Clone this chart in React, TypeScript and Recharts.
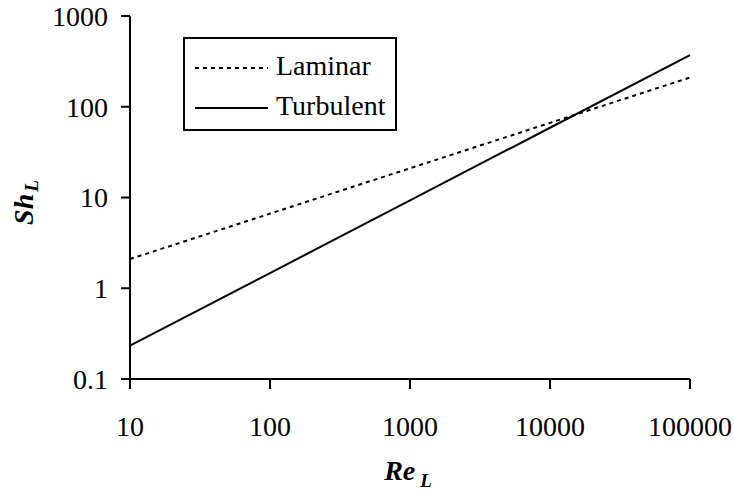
import { LineChart, Line, XAxis, YAxis, Legend, Label } from "recharts";

// Sherwood number vs Reynolds number (log-log)
const reynolds = [10, 100, 1000, 10000, 100000];
const laminarSh = [2.1, 6.64, 21, 66.4, 210];
const turbulentSh = [0.233, 1.47, 9.3, 58.7, 370];
const xTicks = [10, 100, 1000, 10000, 100000];
const yTicks = [0.1, 1, 10, 100, 1000];

const data = reynolds.map((re, i) => ({
  re,
  laminar: laminarSh[i],
  turbulent: turbulentSh[i],
}));

const FONT = "Liberation Serif";
const tickStyle = { fill: "#000", fontSize: 28, fontFamily: FONT, style: { fontFamily: FONT } };

// legend drawn as a framed box like the original
function LegendBox({ payload }: any) {
  const rows = payload || [];
  return (
    <svg width={214} height={94} style={{ display: "block" }}>
      <rect x={1} y={1} width={212} height={92} fill="#fff" stroke="#000" strokeWidth={2} />
      {rows.map((entry: any, i: number) => {
        const ly = i === 0 ? 31 : 71;
        return (
          <g key={entry.value}>
            <line
              x1={12}
              x2={85}
              y1={ly}
              y2={ly}
              stroke="#000"
              strokeWidth={2}
              strokeDasharray={entry.payload?.strokeDasharray}
            />
            <text x={93} y={ly + 7} fill="#000" style={{ fontFamily: FONT, fontSize: 28 }}>
              {entry.value}
            </text>
          </g>
        );
      })}
    </svg>
  );
}

const renderXLabel = ({ viewBox }: any) => {
  const cx = viewBox.x + viewBox.width / 2 - 2;
  return (
    <text
      x={cx}
      y={480}
      textAnchor="middle"
      fill="#000"
      style={{ fontFamily: FONT, fontWeight: "bold", fontStyle: "italic" }}
    >
      <tspan style={{ fontSize: 28 }}>Re</tspan>
      <tspan style={{ fontSize: 19 }} dx={5} dy={7}>L</tspan>
    </text>
  );
};

const renderYLabel = ({ viewBox }: any) => {
  const cy = viewBox.y + viewBox.height / 2 + 5;
  const cx = 33;
  return (
    <text
      x={cx}
      y={cy}
      transform={`rotate(-90, ${cx}, ${cy})`}
      textAnchor="middle"
      fill="#000"
      style={{ fontFamily: FONT, fontWeight: "bold", fontStyle: "italic" }}
    >
      <tspan style={{ fontSize: 28 }}>Sh</tspan>
      <tspan style={{ fontSize: 19 }} dx={2} dy={5}>L</tspan>
    </text>
  );
};

export default function App() {
  return (
    <div style={{ position: "absolute", left: 0, top: 0, background: "#fff", fontFamily: FONT }}>
      <LineChart
        width={734}
        height={491}
        data={data}
        margin={{ top: 16, right: 44, left: 0, bottom: 0 }}
        style={{ fontFamily: FONT }}
      >
        <XAxis
          dataKey="re"
          type="number"
          scale="log"
          domain={[10, 100000]}
          ticks={xTicks}
          height={112}
          tick={tickStyle}
          tickSize={10}
          tickMargin={27}
          axisLine={{ stroke: "#000", strokeWidth: 2 }}
          tickLine={{ stroke: "#000", strokeWidth: 2 }}
          interval={0}
        >
          <Label content={renderXLabel} />
        </XAxis>
        <YAxis
          type="number"
          scale="log"
          domain={[0.1, 1000]}
          ticks={yTicks}
          width={130}
          tick={tickStyle}
          tickSize={9}
          tickMargin={13}
          axisLine={{ stroke: "#000", strokeWidth: 2 }}
          tickLine={{ stroke: "#000", strokeWidth: 2 }}
          interval={0}
          allowDataOverflow
        >
          <Label content={renderYLabel} />
        </YAxis>
        <Legend
          layout="vertical"
          align="center"
          verticalAlign="middle"
          content={<LegendBox />}
          wrapperStyle={{ left: 183, top: 37, width: 214, height: 94 }}
        />
        <Line
          name="Laminar"
          dataKey="laminar"
          type="linear"
          stroke="#000"
          strokeWidth={2}
          strokeDasharray="4 4"
          dot={false}
          isAnimationActive={false}
        />
        <Line
          name="Turbulent"
          dataKey="turbulent"
          type="linear"
          stroke="#000"
          strokeWidth={2}
          dot={false}
          isAnimationActive={false}
        />
      </LineChart>
    </div>
  );
}
